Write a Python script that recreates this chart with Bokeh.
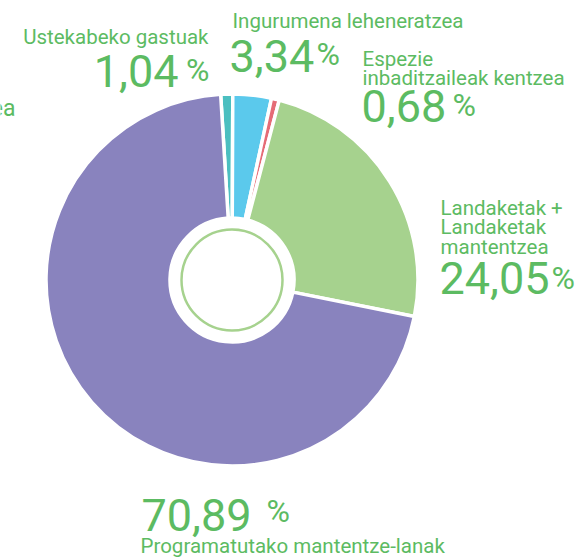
import numpy as np
from bokeh.plotting import figure
from bokeh.models import Range1d, ColumnDataSource
from bokeh.core.properties import value
from bokeh.embed import file_html
from bokeh.resources import INLINE

# ---- data ----
categories = [
    "Ustekabeko gastuak",
    "Ingurumena leheneratzea",
    "Espezie\ninbaditzaileak kentzea",
    "Landaketak +\nLandaketak\nmantentzea",
    "Programatutako mantentze-lanak",
]
shares = [1.04, 3.34, 0.68, 24.05, 70.89]
colors = ["#4bbfc0", "#5bc9ec", "#e56c76", "#a6d28e", "#8983be"]
cut_label = "ea"

# ---- styles ----
FONT = "Roboto"
TXT = "#5cbb62"
W, H = 583, 560
LBL, NUM, PCT = 20.5, 45, 32
SHIFT = 0.38  # baseline correction as a fraction of font size


def sy(y, size=0):
    return H - (y - SHIFT * size)


p = figure(width=W, height=H, x_range=Range1d(0, W), y_range=Range1d(0, H),
           output_backend="svg", toolbar_location=None, min_border=0,
           x_axis_location=None, y_axis_location=None)
p.grid.visible = False
p.outline_line_color = None

cx, cy = 231.5, 279.5
start_deg = -3.5
vals = np.array(shares, dtype=float)
cum = np.concatenate([[0.0], np.cumsum(vals)]) / vals.sum() * 360.0
th_s = start_deg + cum[:-1]
th_e = start_deg + cum[1:]
src = ColumnDataSource(dict(start=np.radians(90 - th_s), end=np.radians(90 - th_e), color=colors))
p.annular_wedge(x=cx, y=sy(cy), inner_radius=62, outer_radius=186,
                inner_radius_units="screen", outer_radius_units="screen",
                start_angle="start", end_angle="end", direction="clock",
                fill_color="color", line_color="white", line_width=3.5, source=src)
p.circle(x=[cx], y=[sy(cy)], radius=50.5, radius_units="screen",
         fill_color=None, line_color="#a6d28e", line_width=2.5)

# label placement: (label x, first baseline, line step, align, num x, num base, num align, pct x, pct base, pct align)
place = [
    (208, 44, 19, "right", 178, 88, "right", 209, 82, "right"),
    (232, 28, 19, "left", 229, 73, "left", 316, 66, "left"),
    (362, 66, 19, "left", 361, 123, "left", 452, 117, "left"),
    (440, 215, 19.5, "left", 439, 295, "left", 551, 290, "left"),
    (140, 553, 19, "left", 141, 532, "left", 266, 523, "left"),
]

for cat, v, pl in zip(categories, shares, place):
    lx, lb, step, la, nx, nb, na, px, pb, pa = pl
    lines = cat.split("\n")
    p.text(x=[lx] * len(lines), y=[sy(lb + i * step, LBL) for i in range(len(lines))], text=lines,
           text_font=value(FONT), text_font_size=f"{LBL}px", text_color=TXT,
           text_align=la, text_baseline="alphabetic")
    num = f"{v:.2f}".replace(".", ",")
    p.text(x=[nx], y=[sy(nb, NUM)], text=[num], text_font=value(FONT), text_font_size=f"{NUM}px",
           text_color=TXT, text_align=na, text_baseline="alphabetic")
    p.text(x=[px], y=[sy(pb, PCT)], text=["%"], text_font=value(FONT), text_font_size=f"{PCT}px",
           text_color=TXT, text_align=pa, text_baseline="alphabetic")

p.text(x=[15], y=[sy(117, 23)], text=[cut_label], text_font=value(FONT), text_font_size="23px",
       text_color=TXT, text_align="right", text_baseline="alphabetic")

open("out.html", "w").write(file_html(p, INLINE))
